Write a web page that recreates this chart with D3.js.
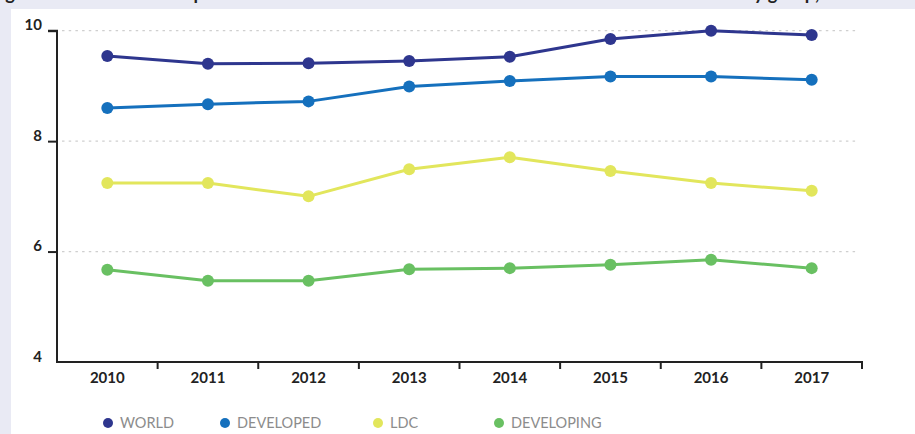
<!DOCTYPE html>
<html>
<head>
<meta charset="utf-8">
<script src="https://cdn.jsdelivr.net/npm/d3@7"></script>
<style>
  html, body { margin: 0; padding: 0; background: #e9eaf4; }
  svg { display: block; }
</style>
</head>
<body>
<svg id="chart" width="915" height="434"></svg>
<script>
// Years on the x axis
const years = ["2010", "2011", "2012", "2013", "2014", "2015", "2016", "2017"];

// One array per country group
const world      = [9.54, 9.40, 9.41, 9.45, 9.53, 9.85, 10.00, 9.92];
const developed  = [8.60, 8.67, 8.72, 8.99, 9.09, 9.17, 9.17, 9.11];
const ldc        = [7.24, 7.24, 7.00, 7.49, 7.71, 7.46, 7.24, 7.10];
const developing = [5.67, 5.47, 5.47, 5.68, 5.70, 5.76, 5.85, 5.70];

const seriesNames  = ["WORLD", "DEVELOPED", "LDC", "DEVELOPING"];
const seriesColors = ["#2e368e", "#1570bd", "#e2e65c", "#69c062"];
const yTicks = [4, 6, 8, 10];
const gridTicks = [6, 8, 10];
const captionText = "Figure 10: Internet users per 100 inhabitants in the world and the three main economic blocs by group, 2010–2017";

const series = [world, developed, ldc, developing].map((v, i) => ({
  name: seriesNames[i], color: seriesColors[i], values: v
}));

const svg = d3.select("#chart");

// White panel
svg.append("rect").attr("x", 11).attr("y", 9).attr("width", 904).attr("height", 425).attr("fill", "#ffffff");

// Caption running off the top edge of the page
const title = svg.append("text")
  .attr("y", 0)
  .attr("font-family", "Lato, sans-serif")
  .attr("font-weight", 700)
  .attr("font-size", 18)
  .attr("fill", "#222")
  .text(captionText);
const gIdx = captionText.indexOf("g");
const byIdx = captionText.indexOf("by group");
const node = title.node();
const span = node.getSubStringLength(0, byIdx) - node.getSubStringLength(0, gIdx);
const fs = 18 * (744 - 5) / span;
title.attr("font-size", fs);
title.attr("x", 744 - node.getSubStringLength(0, byIdx));

const x = d3.scaleBand().domain(years).range([57, 862]);
const y = d3.scaleLinear().domain([4, 10]).range([362, 30.7]);
const cx = d => x(d) + x.bandwidth() / 2;

// Dotted gridlines
svg.append("g").selectAll("line").data(gridTicks).join("line")
  .attr("x1", 62).attr("x2", 858)
  .attr("y1", d => y(d)).attr("y2", d => y(d))
  .attr("stroke", "#cfcfcf").attr("stroke-width", 1.3)
  .attr("stroke-dasharray", "2.5,4.2");

// Y axis
const yAxis = svg.append("g").attr("transform", "translate(57,0)")
  .call(d3.axisLeft(y).tickValues(yTicks).tickSize(9).tickPadding(6).tickFormat(d3.format("d")));
yAxis.select(".domain").attr("stroke", "#222").attr("stroke-width", 2).attr("d", `M-9,${y(10)}H0V${y(4)}`);
yAxis.selectAll(".tick line").attr("stroke", "#222").attr("stroke-width", 2);
yAxis.selectAll(".tick").filter(d => d === 4).select("line").remove();
yAxis.selectAll(".tick text")
  .attr("font-family", "Lato, sans-serif").attr("font-weight", 700).attr("font-size", 15)
  .attr("fill", "#222").attr("dy", "-0.05em");

// X axis: line, boundary ticks and year labels
const xg = svg.append("g");
xg.append("line").attr("x1", 56).attr("x2", 863).attr("y1", y(4)).attr("y2", y(4))
  .attr("stroke", "#222").attr("stroke-width", 2);
xg.selectAll("line.b").data(years).join("line").attr("class", "b")
  .attr("x1", d => x(d) + x.bandwidth()).attr("x2", d => x(d) + x.bandwidth())
  .attr("y1", y(4)).attr("y2", y(4) + 7)
  .attr("stroke", "#222").attr("stroke-width", 2);
xg.selectAll("text").data(years).join("text")
  .attr("x", cx).attr("y", 383)
  .attr("text-anchor", "middle")
  .attr("font-family", "Lato, sans-serif").attr("font-weight", 700).attr("font-size", 15)
  .attr("fill", "#222").text(d => d);

// Lines and markers
const line = d3.line().x((d, i) => cx(years[i])).y(d => y(d));
const sg = svg.append("g").selectAll("g").data(series).join("g");
sg.append("path")
  .attr("d", d => line(d.values))
  .attr("fill", "none").attr("stroke", d => d.color).attr("stroke-width", 3)
  .attr("stroke-linejoin", "round");
sg.selectAll("circle").data(d => d.values.map(v => ({ v, c: d.color }))).join("circle")
  .attr("cx", (d, i) => cx(years[i])).attr("cy", d => y(d.v))
  .attr("r", 6).attr("fill", d => d.c);

// Legend
const legendX = [108, 225, 378, 499];
const lg = svg.append("g").selectAll("g").data(series).join("g")
  .attr("transform", (d, i) => `translate(${legendX[i]},423)`);
lg.append("circle").attr("r", 5).attr("fill", d => d.color);
lg.append("text").attr("x", 12).attr("dy", "0.36em")
  .attr("font-family", "Lato, sans-serif").attr("font-size", 14.5)
  .attr("fill", "#8c8c8c").text(d => d.name);
</script>
</body>
</html>
